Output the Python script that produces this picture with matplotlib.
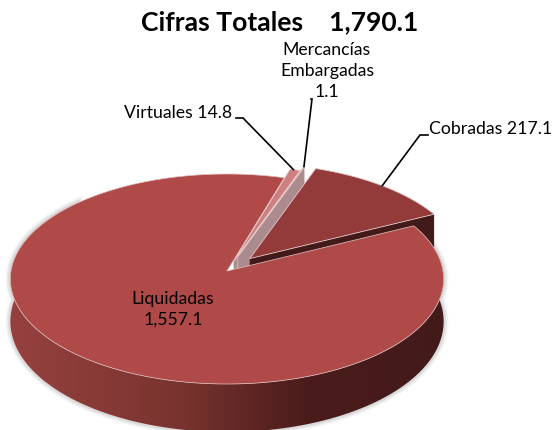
import numpy as np
import matplotlib
matplotlib.use('Agg')
import matplotlib.pyplot as plt
from matplotlib.colors import LinearSegmentedColormap
from matplotlib.patches import Polygon

plt.rcParams['font.family'] = ['Lato', 'DejaVu Sans']

# Data, in pie order going clockwise
categories = ['Liquidadas', 'Virtuales', 'Mercancías\nEmbargadas', 'Cobradas']
values = [1557.1, 14.8, 1.1, 217.1]
explode = [0, 0.10, 0.15, 0.16]

# Pie geometry in image pixels
apex_x, apex_y = 227, 272
rx, ry = 216, 104.4
persp = 0.0762
start_angle = 63.4
depth_mid, depth_tilt = 42, 6

TOP_COLORS = ['#b04a48', '#cd7f7f', '#ab8b8d', '#923b3a']
SIDE_COLORS = ['#b04a48', '#ab8b8d', '#ab8b8d', '#431a1a']
EDGE = '#e3c6c5'
LABEL_SIZE = 12.7


def project(u, v, drop=False):
    # plane coordinates of the pie to image pixels, with a bit of perspective
    w = 1 + persp * v
    x = apex_x + rx * u / w
    y = apex_y - ry * v / w
    if drop:
        y = y + depth_mid - depth_tilt * v
    return x, y


def wedge(t0, t1, e):
    mid = np.radians((t0 + t1) / 2)
    eu, ev = e * np.sin(mid), e * np.cos(mid)
    t = np.radians(np.linspace(t0, t1, max(int(t1 - t0), 2) * 2))
    u = np.r_[eu, eu + np.sin(t)]
    v = np.r_[ev, ev + np.cos(t)]
    return u, v


fig = plt.figure(figsize=(5.54, 4.31), dpi=100)
ax = fig.add_axes([0, 0, 1, 1])

# angles of each slice
sweeps = np.array(values) / sum(values) * 360
starts = start_angle + np.r_[0, np.cumsum(sweeps)[:-1]]
slices = [wedge(s, s + d, e) for s, d, e in zip(starts, sweeps, explode)]

# Liquidadas rim: front part only, the top face hides the rest
t = np.radians(np.linspace(starts[0], starts[0] + 250, 300))
rim_top = np.column_stack(project(np.sin(t), np.cos(t)))
rim_low = np.column_stack(project(np.sin(t), np.cos(t), drop=True))
rim = np.vstack([rim_top, rim_low[::-1]])

# soft shadow around the bottom of the pie
for lw, alpha in [(7, 0.05), (5, 0.07), (3, 0.10)]:
    ax.add_patch(Polygon(rim, closed=True, fc='none', ec='#555555', lw=lw, alpha=alpha, zorder=1))

# small slices and Cobradas, back to front, radial face first
for i in [1, 2, 3]:
    u, v = slices[i]
    ue, ve = u[[0, -1]], v[[0, -1]]
    top = np.column_stack(project(ue, ve))
    low = np.column_stack(project(ue, ve, drop=True))
    ax.add_patch(Polygon(np.vstack([top, low[::-1]]), closed=True, fc=SIDE_COLORS[i],
                         ec=EDGE if i != 3 else 'none', lw=0.5, zorder=2 + i))
    ax.add_patch(Polygon(np.column_stack(project(u, v)), closed=True, fc=TOP_COLORS[i],
                         ec=EDGE, lw=0.6, zorder=2 + i))

# side gradient of the big slice
side_cmap = LinearSegmentedColormap.from_list('side', [(0, '#964140'), (0.38, '#7a342f'),
                                                       (0.68, '#4b1c1c'), (1, '#431a1a')])
im = ax.imshow(np.linspace(0, 1, 256)[None, :], cmap=side_cmap, aspect='auto',
               extent=(rim[:, 0].min(), rim[:, 0].max(), rim[:, 1].max(), rim[:, 1].min()), zorder=6)
im.set_clip_path(Polygon(rim, closed=True, transform=ax.transData))

u, v = slices[0]
ax.add_patch(Polygon(np.column_stack(project(u, v)), closed=True, fc=TOP_COLORS[0],
                     ec=EDGE, lw=0.5, zorder=7))

# labels
ax.text(280, 22, f'Cifras Totales    {sum(values):,.1f}', ha='center', va='center',
        fontsize=19.1, fontweight='bold', color='black', zorder=10)
ax.text(173, 309, f'{categories[0]}\n{values[0]:,.1f}', ha='center', va='center',
        fontsize=LABEL_SIZE, linespacing=1.35, color='black', zorder=10)
ax.text(124, 113, f'{categories[1]} {values[1]:,.1f}', ha='left', va='center',
        fontsize=LABEL_SIZE, color='black', zorder=10)
ax.text(327, 71, f'{categories[2]}\n{values[2]:,.1f}', ha='center', va='center',
        fontsize=LABEL_SIZE, linespacing=1.35, color='black', zorder=10)
ax.text(429, 129, f'{categories[3]} {values[3]:,.1f}', ha='left', va='center',
        fontsize=LABEL_SIZE, color='black', zorder=10)

# leader lines, from the outer edge of each small slice to its label
leaders = [(1, 0.5, [(243, 119), (236, 119)]),
           (2, 0.5, [(312, 100), (311, 100)]),
           (3, 0.5, [(420, 136), (428, 136)])]
for i, frac, elbow in leaders:
    u, v = slices[i]
    k = 1 + int(frac * (len(u) - 2))
    x0, y0 = project(u[k], v[k])
    xs = [x0] + [p[0] for p in elbow]
    ys = [y0] + [p[1] for p in elbow]
    ax.plot(xs, ys, color='black', lw=1.2, solid_joinstyle='miter', zorder=9)

ax.set_xlim(0, 554)
ax.set_ylim(431, 0)
ax.axis('off')

fig.savefig('out.png', dpi=100, facecolor='white')
